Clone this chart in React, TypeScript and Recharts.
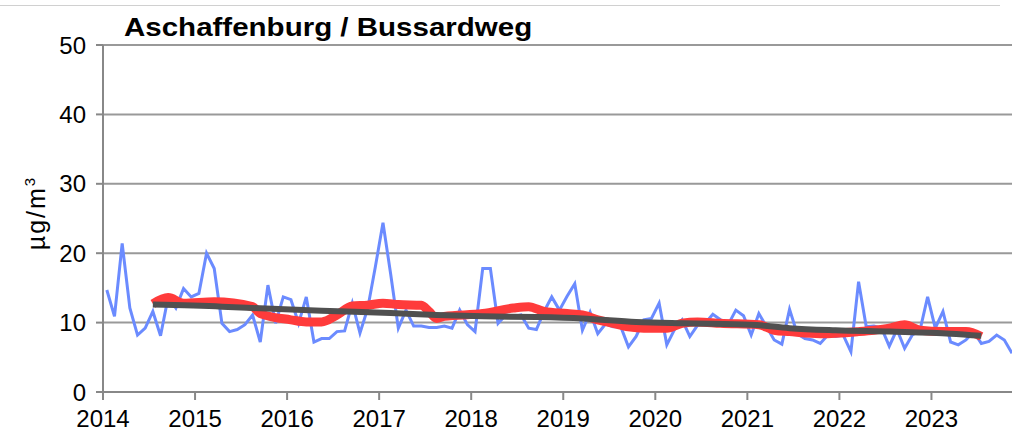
import React from "react";
import { LineChart, Line, XAxis, YAxis, CartesianGrid } from "recharts";

// monthly means from Jan 2014, µg/m³
const startYear = 2014;
const yearLabels = [2014, 2015, 2016, 2017, 2018, 2019, 2020, 2021, 2022, 2023];
const yTicks = [0, 10, 20, 30, 40, 50];

const monthlyValues = [
  14.7, 10.9, 21.4, 12.1, 8.2, 9.2, 11.6, 8.1, 13.7, 12.1, 14.9, 13.7,
  14.2, 20.0, 17.8, 9.9, 8.7, 9.0, 9.7, 11.1, 7.2, 15.4, 9.9, 13.7,
  13.3, 9.9, 13.7, 7.2, 7.7, 7.7, 8.7, 8.8, 12.8, 8.5, 12.0, 18.0,
  24.4, 17.0, 9.2, 11.8, 9.5, 9.5, 9.3, 9.3, 9.5, 9.2, 11.8, 9.7,
  8.7, 17.8, 17.8, 9.9, 11.1, 10.9, 11.1, 9.2, 9.0, 11.6, 13.7, 11.8,
  13.8, 15.6, 8.9, 11.5, 8.4, 9.8, 9.4, 9.4, 6.5, 8.0, 10.4, 10.6,
  12.8, 6.8, 9.0, 10.4, 8.0, 9.6, 9.9, 11.2, 10.4, 9.7, 11.8, 11.0,
  8.2, 11.3, 9.4, 7.5, 6.9, 11.9, 8.4, 7.7, 7.5, 7.0, 8.2, 8.0,
  8.2, 5.8, 15.9, 9.4, 9.5, 9.2, 6.6, 9.0, 6.3, 8.2, 8.9, 13.7,
  9.2, 11.6, 7.2, 6.8, 7.5, 8.7, 7.0, 7.3, 8.2, 7.5, 5.6,
];

// 12-month moving average (read at these month indices)
const movingAvgMonths = [6, 8, 10, 14, 19, 20, 24, 26, 28, 30, 32, 34, 36, 38, 41, 42, 43, 44, 49, 53, 55, 57, 60, 62, 64, 66, 68, 70, 73, 75, 77, 80, 85, 87, 89, 93, 98, 100, 102, 104, 106, 109, 112, 114];
const movingAvgValues = [12.7, 13.6, 12.8, 13.0, 12.3, 11.3, 10.4, 10.1, 10.1, 11.1, 12.4, 12.5, 12.8, 12.6, 12.5, 11.6, 10.6, 10.9, 11.3, 12.1, 12.3, 11.6, 11.3, 11.1, 10.4, 9.9, 9.4, 9.2, 9.2, 9.9, 10.1, 9.9, 9.7, 8.9, 8.7, 8.4, 8.7, 8.9, 9.2, 9.7, 8.9, 8.7, 8.7, 8.0];

// trend
const trendMonths = [6, 15, 19, 28, 37, 43, 49, 56, 62, 69, 75, 84, 89, 95, 102, 110, 114];
const trendValues = [12.6, 12.3, 12.1, 11.7, 11.4, 11.1, 10.9, 10.8, 10.6, 10.1, 9.9, 9.7, 9.2, 8.9, 8.7, 8.4, 8.1];

const rows = monthlyValues.map((v, m) => {
  const ai = movingAvgMonths.indexOf(m);
  const ti = trendMonths.indexOf(m);
  return {
    x: m + 0.5,
    monthly: v,
    avg: ai >= 0 ? movingAvgValues[ai] : null,
    trend: ti >= 0 ? trendValues[ti] : null,
  };
});

const font = '"Liberation Sans", Arial, sans-serif';

const YLabel = () => (
  <text
    x={0}
    y={0}
    transform="translate(45, 213) rotate(-90)"
    textAnchor="middle"
    fontSize={25}
    letterSpacing={2}
    fontFamily={font}
    fill="#000"
  >
    µg/m
    <tspan fontSize={15} dy={-10}>
      3
    </tspan>
  </text>
);

export default function App() {
  return (
    <div style={{ position: "absolute", left: 0, top: 0, width: 1012, height: 437, background: "#fff" }}>
      <div style={{ position: "absolute", left: 0, top: 5, width: 1000, height: 1, background: "#d0d0d0" }} />
      <div
        style={{
          position: "absolute",
          left: 124,
          top: 12,
          fontFamily: font,
          fontWeight: "bold",
          fontSize: 25,
          transform: "scaleX(1.18)",
          transformOrigin: "left top",
          whiteSpace: "nowrap",
          color: "#000",
          zIndex: 2,
          lineHeight: "30px",
        }}
      >
        Aschaffenburg / Bussardweg
      </div>
      <LineChart
        width={1012}
        height={437}
        data={rows}
        margin={{ top: 45, right: 0, bottom: 0, left: 0 }}
      >
        <CartesianGrid vertical={false} stroke="#999" strokeWidth={2} />
        <XAxis
          dataKey="x"
          type="number"
          domain={[0, 118.5]}
          ticks={yearLabels.map((y) => (y - startYear) * 12)}
          tickFormatter={(v: number) => String(startYear + v / 12)}
          height={45}
          tickSize={8}
          tickMargin={10}
          axisLine={{ stroke: "#888", strokeWidth: 2 }}
          tickLine={{ stroke: "#888", strokeWidth: 2 }}
          tick={{ fill: "#000", fontSize: 24, fontFamily: font }}
          allowDataOverflow
        />
        <YAxis
          domain={[0, 50]}
          ticks={yTicks}
          width={103}
          tickSize={7}
          tickMargin={10}
          axisLine={{ stroke: "#888", strokeWidth: 2 }}
          tickLine={{ stroke: "#888", strokeWidth: 2 }}
          tick={{ fill: "#000", fontSize: 24, fontFamily: font }}
          label={<YLabel />}
        />
        <Line
          dataKey="monthly"
          stroke="#6b8bff"
          strokeWidth={3}
          dot={false}
          type="linear"
          isAnimationActive={false}
        />
        <Line
          dataKey="avg"
          stroke="#ff3b3b"
          strokeWidth={9}
          dot={false}
          type="monotone"
          connectNulls
          isAnimationActive={false}
        />
        <Line
          dataKey="trend"
          stroke="#505050"
          strokeWidth={6}
          dot={false}
          type="monotone"
          connectNulls
          isAnimationActive={false}
        />
      </LineChart>
    </div>
  );
}
